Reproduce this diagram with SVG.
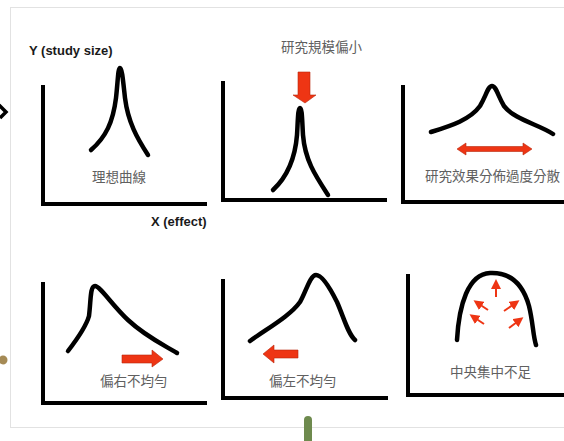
<svg xmlns="http://www.w3.org/2000/svg" width="564" height="441" viewBox="0 0 564 441">
<defs>
<style>
.axis{fill:none;stroke:#000;stroke-width:4;stroke-linecap:square}
.curve{fill:none;stroke:#000;stroke-width:4.5;stroke-linecap:round;stroke-linejoin:round}
.lbl{font-family:"Liberation Sans","Noto Sans CJK TC",sans-serif;font-size:13.5px;fill:#606060}
.bold{font-family:"Liberation Sans",Arial,sans-serif;font-weight:bold;font-size:13px;fill:#1a1a1a}
.red{fill:#ee3514;stroke:#b8260c;stroke-width:0.6}
.sa{stroke:#ee3514;stroke-width:2;fill:none}
</style>
<marker id="ah" viewBox="0 0 10 10" refX="7" refY="5" markerWidth="5" markerHeight="5" orient="auto">
<path d="M0,0 L10,5 L0,10 z" fill="#ee3514"/>
</marker>
</defs>
<rect x="0" y="0" width="564" height="441" fill="#fff"/>
<rect x="10.5" y="7.5" width="560" height="420" fill="#fff" stroke="#e2e2e2" stroke-width="1"/>
<path d="M-1,105 L6,112 L0,118" fill="none" stroke="#000" stroke-width="3.5"/>
<circle cx="3" cy="360" r="4.5" fill="#a58a55"/>
<rect x="304" y="416" width="8" height="30" rx="4" fill="#6e8a4e"/>

<g id="chart-ideal">
<path class="axis" d="M43,87 L43,204 L205,204"/>
<path class="curve" d="M91,150 C106,137 113,122 116,98 C118,80 118,68 120,68 C122,68 123,80 125,98 C128,122 137,138 148,155"/>
<text class="bold" x="29" y="55">Y (study size)</text>
<text class="bold" x="151" y="226" font-size="13.5">X (effect)</text>
<text class="lbl" x="92" y="182">理想曲線</text>
</g>

<g id="chart-small">
<path class="axis" d="M223,83 L223,200 L385,200"/>
<path class="curve" d="M273,190 C287,177 295,160 297,135 C298,118 298,108 300,108 C302,108 302,118 303,135 C305,160 315,175 328,195"/>
<path class="red" d="M298,72 L310,72 L310,95 L316,95 L305,103 L293,95 L298,95 z"/>
<text class="lbl" x="281" y="52">研究規模偏小</text>
</g>

<g id="chart-spread">
<path class="axis" d="M403,87 L403,202 L566,202"/>
<path class="curve" d="M431,132 C450,126 470,120 480,106 C486,96 488,86 492,86 C496,86 498,96 504,106 C515,120 538,124 553,134"/>
<path class="red" d="M457,149 L466,143 L466,146.5 L523,146.5 L523,143 L532,149 L523,155 L523,151.5 L466,151.5 L466,155 z"/>
<text class="lbl" x="425" y="181">研究效果分佈過度分散</text>
</g>

<g id="chart-right-skew">
<path class="axis" d="M43,284 L43,403 L205,403"/>
<path class="curve" d="M68,351 C78,338 86,327 89,316 C91,300 90,286 95,286 C100,286 112,305 128,320 C145,336 162,344 177,353"/>
<path class="red" d="M122,355 L152,355 L152,350 L163,359 L152,367 L152,363 L122,363 z"/>
<text class="lbl" x="100" y="386">偏右不均勻</text>
</g>

<g id="chart-left-skew">
<path class="axis" d="M223,281 L223,398 L386,398"/>
<path class="curve" d="M250,341 C268,328 290,316 300,302 C306,292 310,275 316,275 C322,275 330,288 337,302 C344,318 348,334 355,340"/>
<path class="red" d="M298,350 L274,350 L274,345 L263,354 L274,363 L274,358 L298,358 z"/>
<text class="lbl" x="269" y="386">偏左不均勻</text>
</g>

<g id="chart-flat">
<path class="axis" d="M408,276 L408,395 L566,395"/>
<path class="curve" d="M457,340 C459,305 468,274 490,273 C513,272 524,288 529,306 C533,322 533,336 536,345"/>
<path class="sa" marker-end="url(#ah)" d="M496,297 L496,282"/>
<path class="sa" marker-end="url(#ah)" d="M488,310 L476,302"/>
<path class="sa" marker-end="url(#ah)" d="M484,324 L472,316"/>
<path class="sa" marker-end="url(#ah)" d="M504,311 L517,302"/>
<path class="sa" marker-end="url(#ah)" d="M509,328 L521,319"/>
<text class="lbl" x="450" y="377">中央集中不足</text>
</g>
</svg>
